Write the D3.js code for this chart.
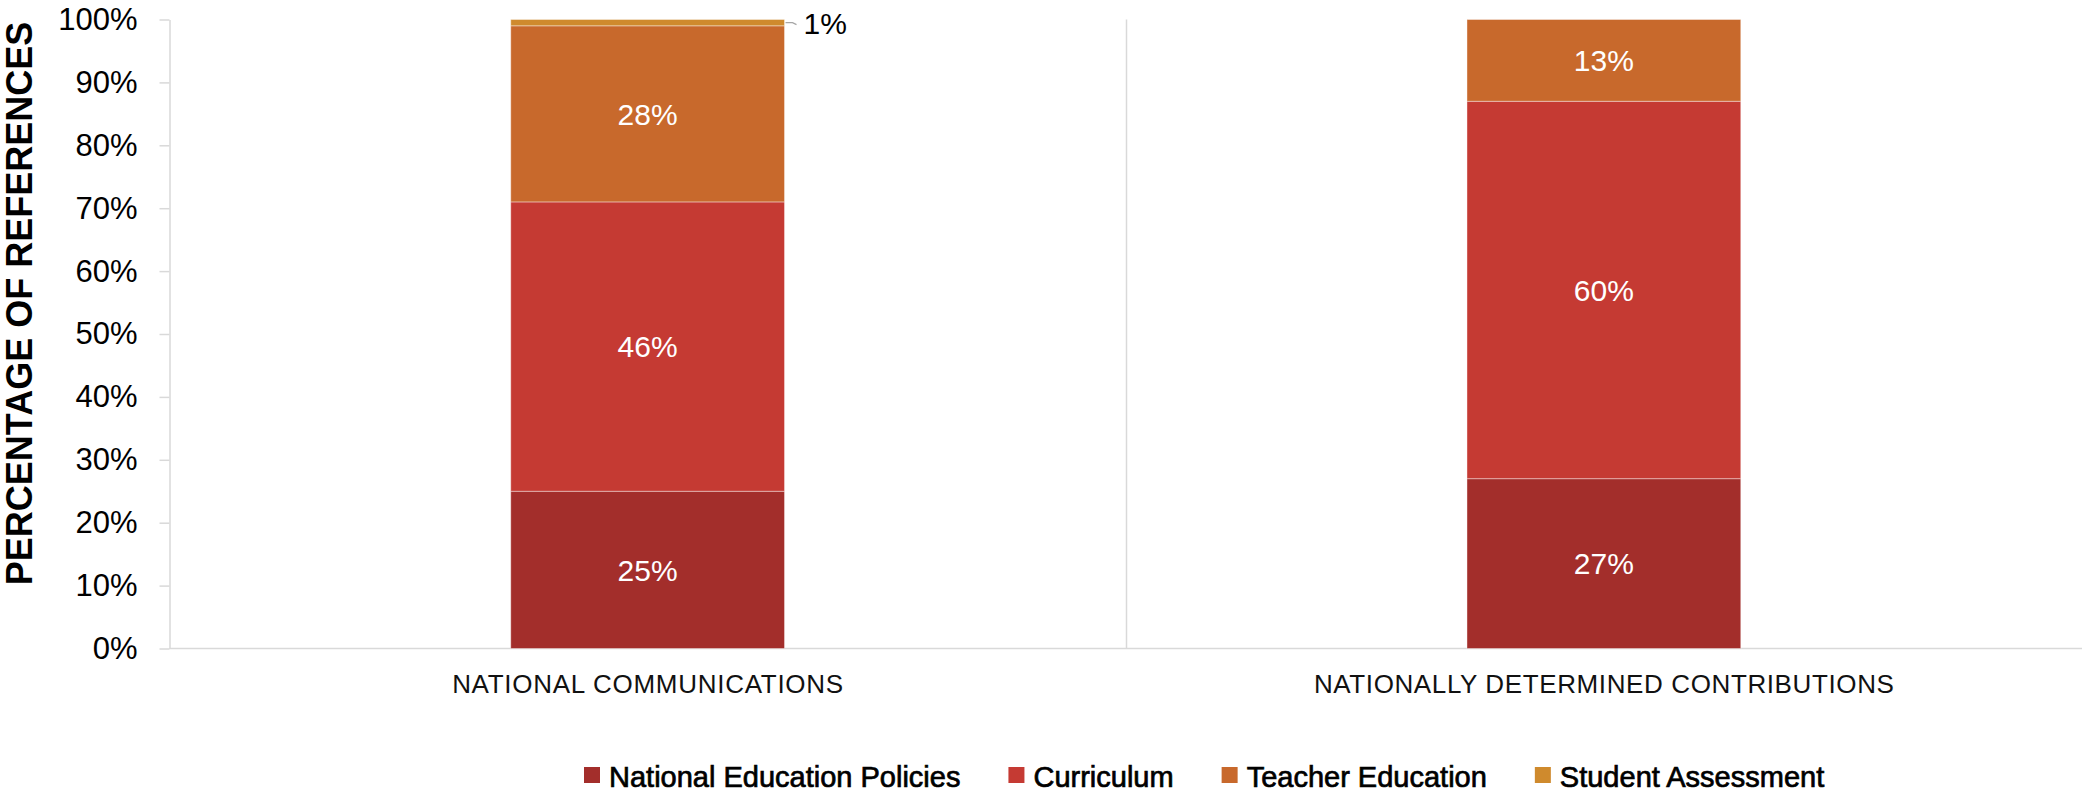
<!DOCTYPE html>
<html>
<head>
<meta charset="utf-8">
<script src="https://cdn.jsdelivr.net/npm/d3@7"></script>
<style>
  html, body { margin: 0; padding: 0; background: #fff; }
  svg { display: block; }
</style>
</head>
<body>
<svg id="chart" width="2082" height="793"></svg>
<script>
// Share of references by education area, per document type
const categories = ["NATIONAL COMMUNICATIONS", "NATIONALLY DETERMINED CONTRIBUTIONS"];
const seriesNames = ["National Education Policies", "Curriculum", "Teacher Education", "Student Assessment"];
const nationalEducationPolicies = [25, 27];
const curriculum = [46, 60];
const teacherEducation = [28, 13];
const studentAssessment = [1, 0];
const seriesColors = ["#A32E2B", "#C53A33", "#C8692C", "#CF8A2D"];
const yTicks = [0, 10, 20, 30, 40, 50, 60, 70, 80, 90, 100];

const rows = categories.map((c, i) => ({
  category: c,
  "National Education Policies": nationalEducationPolicies[i],
  "Curriculum": curriculum[i],
  "Teacher Education": teacherEducation[i],
  "Student Assessment": studentAssessment[i]
}));

const svg = d3.select("#chart");
const plotLeft = 169.5, plotRight = 2082, plotTop = 19.5, plotBottom = 648.5;

const x = d3.scaleBand()
  .domain(categories)
  .range([plotLeft, plotRight])
  .paddingInner(0.7137)
  .paddingOuter(0.35685);

const y = d3.scaleLinear().domain([0, 100]).range([plotBottom, plotTop]);
const color = d3.scaleOrdinal().domain(seriesNames).range(seriesColors);

// category divider and baseline
const step = x.step();
svg.append("line")
  .attr("x1", Math.round(plotLeft + step) + 0.5).attr("x2", Math.round(plotLeft + step) + 0.5)
  .attr("y1", y(100)).attr("y2", y(0))
  .attr("stroke", "#d9d9d9").attr("stroke-width", 1.5);
svg.append("line")
  .attr("x1", plotLeft).attr("x2", plotRight)
  .attr("y1", y(0)).attr("y2", y(0))
  .attr("stroke", "#d9d9d9").attr("stroke-width", 1.5);

// y axis
const yAxis = svg.append("g")
  .attr("transform", `translate(${plotLeft},0)`)
  .call(d3.axisLeft(y).tickValues(yTicks).tickFormat(d => d + "%")
    .tickSize(10).tickPadding(22).tickSizeOuter(0));
yAxis.select(".domain").attr("stroke", "#d9d9d9").attr("stroke-width", 1.5);
yAxis.selectAll(".tick line").attr("stroke", "#d9d9d9").attr("stroke-width", 1.5);
yAxis.selectAll(".tick text")
  .attr("font-family", "'Liberation Sans', Arial, sans-serif")
  .attr("font-size", 31)
  .attr("fill", "#000");

// y axis title
svg.append("text")
  .attr("transform", `translate(31.5,${(20 + 587) / 2}) rotate(-90)`)
  .attr("text-anchor", "middle")
  .attr("font-family", "'Liberation Sans', Arial, sans-serif")
  .attr("font-weight", "bold")
  .attr("font-size", 36)
  .attr("fill", "#000")
  .text("PERCENTAGE OF REFERENCES");

// stacked bars
const stacked = d3.stack().keys(seriesNames)(rows);

const layers = svg.append("g").selectAll("g")
  .data(stacked)
  .join("g")
  .attr("fill", d => color(d.key));

layers.selectAll("rect")
  .data(d => d.map(v => ({ key: d.key, v })))
  .join("rect")
  .filter(d => d.v[1] - d.v[0] > 0)
  .attr("x", d => x(d.v.data.category))
  .attr("y", d => y(d.v[1]))
  .attr("width", x.bandwidth())
  .attr("height", d => y(d.v[0]) - y(d.v[1]))
  .attr("stroke", "#ffffff")
  .attr("stroke-opacity", 0.4)
  .attr("stroke-width", 1);

// value labels
const labelFont = "'Liberation Sans', Arial, sans-serif";
stacked.forEach(layer => {
  layer.forEach(v => {
    const val = v[1] - v[0];
    if (val <= 0) return;
    const cx = x(v.data.category) + x.bandwidth() / 2;
    const cy = (y(v[0]) + y(v[1])) / 2;
    if (val >= 5) {
      svg.append("text")
        .attr("x", cx).attr("y", cy)
        .attr("dy", "0.36em")
        .attr("text-anchor", "middle")
        .attr("font-family", labelFont)
        .attr("font-size", 30)
        .attr("fill", "#fff")
        .text(val + "%");
    } else {
      const xr = x(v.data.category) + x.bandwidth();
      svg.append("polyline")
        .attr("points", `${xr + 1},${cy} ${xr + 8},${cy} ${xr + 12},${cy + 2}`)
        .attr("fill", "none")
        .attr("stroke", "#a6a6a6")
        .attr("stroke-width", 1.2);
      svg.append("text")
        .attr("x", xr + 19).attr("y", cy + 1)
        .attr("dy", "0.36em")
        .attr("font-family", labelFont)
        .attr("font-size", 30)
        .attr("fill", "#000")
        .text(val + "%");
    }
  });
});

// category labels
const catWidths = [391, 580];
svg.append("g").selectAll("text")
  .data(categories)
  .join("text")
  .attr("x", d => x(d) + x.bandwidth() / 2)
  .attr("y", 693)
  .attr("text-anchor", "middle")
  .attr("font-family", "'Liberation Sans Narrow', 'Liberation Sans', Arial, sans-serif")
  .attr("font-size", 26)
  .attr("fill", "#111")
  .attr("textLength", (d, i) => catWidths[i])
  .attr("lengthAdjust", "spacing")
  .text(d => d);

// legend
const legend = svg.append("g");
let lx = 584;
seriesNames.forEach(name => {
  legend.append("rect")
    .attr("x", lx).attr("y", 767)
    .attr("width", 16).attr("height", 16)
    .attr("fill", color(name));
  const t = legend.append("text")
    .attr("x", lx + 25).attr("y", 786.5)
    .attr("font-family", "'Liberation Sans', Arial, sans-serif")
    .attr("font-size", 29)
    .attr("fill", "#000")
    .attr("stroke", "#000")
    .attr("stroke-width", 0.7)
    .text(name);
  lx += 25 + t.node().getComputedTextLength() + 48;
});
</script>
</body>
</html>
